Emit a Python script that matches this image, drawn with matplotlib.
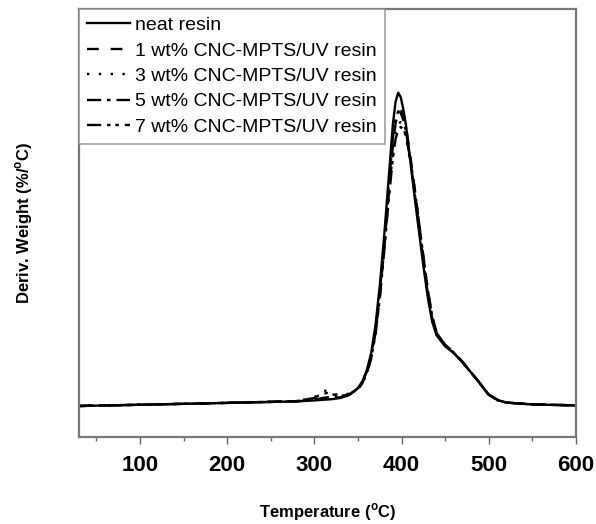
import matplotlib
matplotlib.use("Agg")
import matplotlib.pyplot as plt

plt.rcParams['font.family'] = ['Liberation Sans', 'DejaVu Sans']
plt.rcParams['mathtext.fontset'] = 'custom'
plt.rcParams['mathtext.rm'] = 'Liberation Sans'
plt.rcParams['mathtext.bf'] = 'Liberation Sans:bold'

# DATA
temperature = [30, 100, 200, 280, 300, 305, 310, 315, 320, 330, 340, 350, 355, 360, 365,
               370, 375, 380, 385, 390, 393, 396, 399, 402, 405, 410, 415, 420, 425, 430,
               435, 440, 450, 460, 470, 480, 490, 500, 510, 520, 550, 600]

neat = [-0.010, -0.006, 0.000, 0.005, 0.008, 0.009, 0.010, 0.011, 0.012, 0.016, 0.026, 0.048, 0.070, 0.105, 0.160,
        0.250, 0.380, 0.540, 0.720, 0.900, 0.970, 1.000, 0.985, 0.945, 0.895, 0.780, 0.660, 0.550, 0.440, 0.340,
        0.262, 0.218, 0.182, 0.160, 0.130, 0.097, 0.062, 0.026, 0.009, 0.001, -0.005, -0.008]

wt1 = [-0.010, -0.006, 0.000, 0.005, 0.010, 0.012, 0.014, 0.015, 0.016, 0.018, 0.026, 0.045, 0.064, 0.095, 0.145,
       0.225, 0.345, 0.495, 0.665, 0.830, 0.900, 0.935, 0.945, 0.930, 0.890, 0.795, 0.690, 0.580, 0.470, 0.365,
       0.280, 0.228, 0.187, 0.163, 0.132, 0.098, 0.063, 0.027, 0.010, 0.001, -0.005, -0.008]

wt3 = [-0.010, -0.006, 0.000, 0.006, 0.018, 0.030, 0.040, 0.038, 0.030, 0.024, 0.030, 0.047, 0.066, 0.098, 0.148,
       0.230, 0.352, 0.505, 0.670, 0.810, 0.875, 0.900, 0.905, 0.890, 0.860, 0.775, 0.675, 0.565, 0.455, 0.352,
       0.272, 0.222, 0.184, 0.161, 0.130, 0.096, 0.061, 0.025, 0.009, 0.001, -0.005, -0.008]

wt5 = [-0.010, -0.006, 0.000, 0.005, 0.010, 0.013, 0.016, 0.018, 0.018, 0.019, 0.027, 0.046, 0.067, 0.100, 0.152,
       0.236, 0.360, 0.515, 0.690, 0.855, 0.915, 0.940, 0.935, 0.910, 0.875, 0.780, 0.675, 0.565, 0.455, 0.352,
       0.272, 0.222, 0.184, 0.161, 0.130, 0.096, 0.062, 0.025, 0.009, 0.001, -0.005, -0.008]

wt7 = [-0.010, -0.006, 0.000, 0.006, 0.016, 0.024, 0.030, 0.032, 0.028, 0.022, 0.028, 0.045, 0.064, 0.095, 0.142,
       0.220, 0.338, 0.488, 0.650, 0.790, 0.850, 0.880, 0.890, 0.880, 0.860, 0.785, 0.690, 0.580, 0.470, 0.365,
       0.280, 0.226, 0.186, 0.162, 0.131, 0.097, 0.062, 0.026, 0.009, 0.001, -0.005, -0.008]

labels = ['neat resin', '1 wt% CNC-MPTS/UV resin', '3 wt% CNC-MPTS/UV resin',
          '5 wt% CNC-MPTS/UV resin', '7 wt% CNC-MPTS/UV resin']
series = [neat, wt1, wt3, wt5, wt7]
styles = ['-', (0, (5, 5)), (0, (1, 4)), (0, (6, 2.5, 1.5, 2.5)), (0, (6, 2.5, 1.5, 2, 1.5, 2.5))]

# CREATE THE FIGURE
fig = plt.figure(figsize=(5.96, 5.24), dpi=100)
ax = fig.add_axes([0.1326, 0.166, 0.8339, 0.817])

for y, label, ls in zip(series, labels, styles):
    ax.plot(temperature, y, color='black', linestyle=ls, linewidth=1.7, label=label)

ax.set_xlim(30, 600)
ax.set_ylim(-0.11, 1.27)
ax.set_xticks([100, 200, 300, 400, 500, 600])
ax.set_xticks(range(50, 601, 50), minor=True)
ax.set_yticks([])
ax.tick_params(axis='x', which='major', direction='out', length=5, width=1, color='#666666',
               labelsize=16, pad=8)
ax.tick_params(axis='x', which='minor', direction='out', length=3, width=1, color='#666666')
for lab in ax.get_xticklabels():
    lab.set_fontweight('bold')
for sp in ax.spines.values():
    sp.set_color('#777777')
    sp.set_linewidth(1.6)

ax.set_xlabel('Temperature ($^{\\mathbf{o}}$C)', fontsize=12, fontweight='bold', labelpad=18)
ax.set_ylabel('Deriv. Weight (%/$^{\\mathbf{o}}$C)', fontsize=12, fontweight='bold', labelpad=32)

leg = ax.legend(loc='upper left', fontsize=14, frameon=True, fancybox=False, borderaxespad=0,
                handlelength=2.2, handletextpad=0.3, labelspacing=0.4, borderpad=0.4)
leg.get_frame().set_edgecolor('#888888')
leg.get_frame().set_linewidth(1.2)

fig.savefig('out.png', dpi=100)
